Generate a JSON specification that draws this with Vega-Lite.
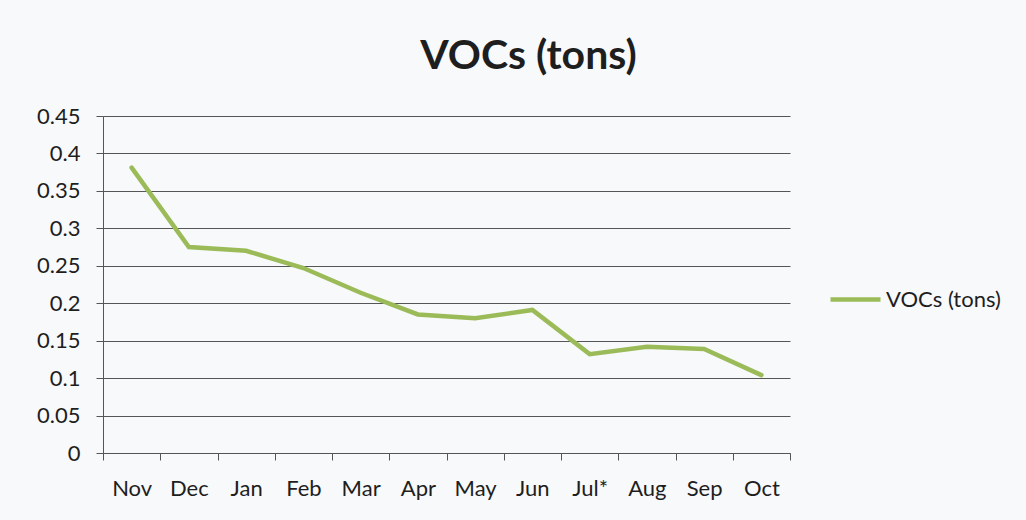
{
  "$schema": "https://vega.github.io/schema/vega-lite/v6.json",
  "autosize": {"type": "none"},
  "width": 687,
  "height": 337,
  "padding": {"left": 103, "top": 116, "right": 236, "bottom": 67},
  "background": "#f8f9fb",
  "title": {
    "text": "VOCs (tons)",
    "font": "Lato",
    "fontSize": 41,
    "fontWeight": "bold",
    "color": "#1e1e1e",
    "anchor": "middle",
    "dx": 82,
    "offset": 27
  },
  "data": {
    "values": [
      {"month": "Nov", "value": 0.381, "series": "VOCs (tons)"},
      {"month": "Dec", "value": 0.275, "series": "VOCs (tons)"},
      {"month": "Jan", "value": 0.270, "series": "VOCs (tons)"},
      {"month": "Feb", "value": 0.247, "series": "VOCs (tons)"},
      {"month": "Mar", "value": 0.214, "series": "VOCs (tons)"},
      {"month": "Apr", "value": 0.185, "series": "VOCs (tons)"},
      {"month": "May", "value": 0.180, "series": "VOCs (tons)"},
      {"month": "Jun", "value": 0.191, "series": "VOCs (tons)"},
      {"month": "Jul*", "value": 0.132, "series": "VOCs (tons)"},
      {"month": "Aug", "value": 0.142, "series": "VOCs (tons)"},
      {"month": "Sep", "value": 0.139, "series": "VOCs (tons)"},
      {"month": "Oct", "value": 0.104, "series": "VOCs (tons)"}
    ]
  },
  "mark": {"type": "line", "strokeWidth": 4.5, "strokeCap": "round"},
  "encoding": {
    "x": {
      "field": "month",
      "type": "nominal",
      "sort": null,
      "scale": {"type": "band", "paddingInner": 0, "paddingOuter": 0},
      "axis": {
        "title": null,
        "labelAngle": 0,
        "tickBand": "extent",
        "tickSize": 7,
        "tickColor": "#555",
        "domainColor": "#555",
        "labelPadding": 18,
        "labelFont": "Lato",
        "labelFontSize": 22,
        "labelColor": "#1e1e1e",
        "grid": false
      }
    },
    "y": {
      "field": "value",
      "type": "quantitative",
      "scale": {"domain": [0, 0.45]},
      "axis": {
        "title": null,
        "values": [0, 0.05, 0.1, 0.15, 0.2, 0.25, 0.3, 0.35, 0.4, 0.45],
        "format": "~g",
        "tickSize": 7,
        "tickColor": "#555",
        "domainColor": "#555",
        "gridColor": "#444",
        "gridWidth": 1,
        "gridOpacity": 0.9,
        "labelPadding": 16,
        "labelFont": "Lato",
        "labelFontSize": 22,
        "labelColor": "#1e1e1e"
      }
    },
    "color": {
      "field": "series",
      "type": "nominal",
      "scale": {"range": ["#9bbb59"]},
      "legend": {
        "title": null,
        "orient": "none",
        "legendX": 725,
        "legendY": 156,
        "symbolType": "stroke",
        "symbolSize": 2500,
        "symbolStrokeWidth": 4.5,
        "labelOffset": 3,
        "labelFont": "Lato",
        "labelFontSize": 22,
        "labelColor": "#1e1e1e"
      }
    }
  },
  "config": {"view": {"stroke": null}}
}
